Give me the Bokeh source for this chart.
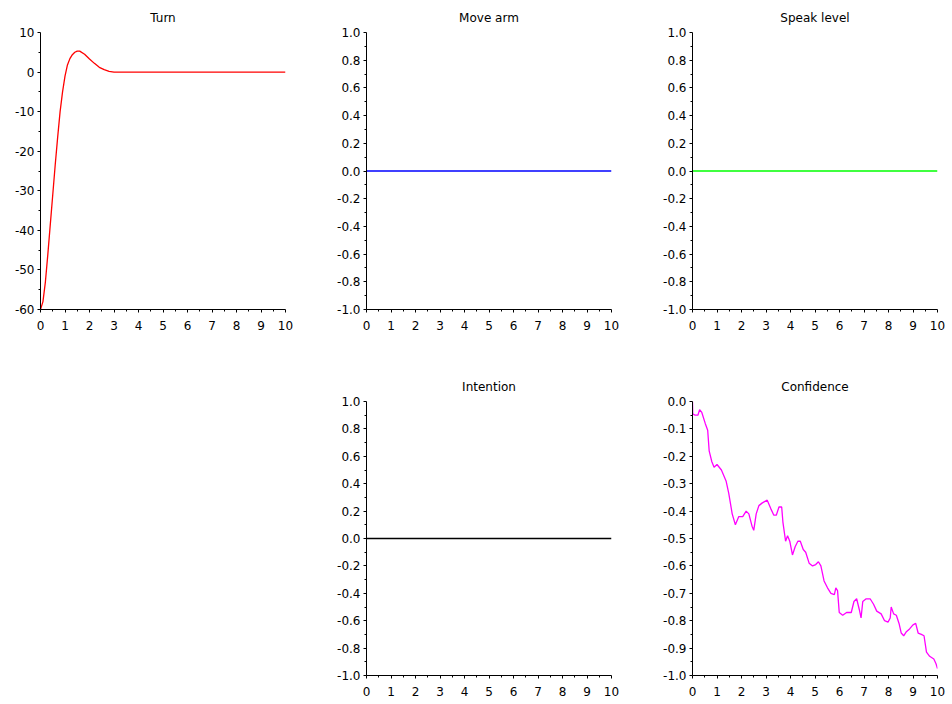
from bokeh.plotting import figure
from bokeh.layouts import gridplot
from bokeh.models import Range1d, FixedTicker, PrintfTickFormatter
from bokeh.embed import file_html
from bokeh.resources import INLINE

# ---- data ----
t_turn = [0, 0.1, 0.2, 0.3, 0.4, 0.5, 0.6, 0.7, 0.8, 0.9, 1.0, 1.1, 1.2, 1.3,
          1.4, 1.5, 1.6, 1.8, 2.0, 2.2, 2.4, 2.6, 2.8, 3.0, 10]
turn = [-60, -58, -53, -46, -38.5, -31, -23.5, -16.5, -10, -5, -1, 1.8, 3.4, 4.4,
        5.0, 5.3, 5.3, 4.5, 3.3, 2.2, 1.2, 0.6, 0.2, 0, 0]

t_flat = [0, 10]
move_arm = [0, 0]
speak_level = [0, 0]
intention = [0, 0]

t_conf = [0, 0.01, 0.11, 0.22, 0.29, 0.38, 0.52, 0.62, 0.68, 0.79, 0.88, 1.0, 1.18,
          1.37, 1.48, 1.62, 1.75, 1.89, 2.05, 2.19, 2.3, 2.43, 2.5, 2.6, 2.71, 2.85,
          3.05, 3.19, 3.32, 3.42, 3.53, 3.64, 3.69, 3.8, 3.88, 3.97, 4.08, 4.19, 4.3,
          4.4, 4.52, 4.62, 4.76, 4.9, 5.03, 5.14, 5.24, 5.37, 5.51, 5.65, 5.79, 5.85,
          5.92, 5.99, 6.13, 6.29, 6.48, 6.59, 6.7, 6.81, 6.88, 6.95, 7.09, 7.25, 7.39,
          7.52, 7.7, 7.84, 7.98, 8.07, 8.11, 8.21, 8.32, 8.43, 8.52, 8.62, 8.73, 8.86,
          9.0, 9.11, 9.21, 9.34, 9.45, 9.55, 9.68, 9.85, 9.93, 10.0]
confidence = [0.0, -0.045, -0.05, -0.05, -0.03, -0.04, -0.08, -0.105, -0.18, -0.22,
              -0.24, -0.23, -0.25, -0.29, -0.335, -0.41, -0.45, -0.42, -0.42, -0.40,
              -0.41, -0.455, -0.47, -0.41, -0.38, -0.37, -0.36, -0.39, -0.415, -0.415,
              -0.385, -0.385, -0.44, -0.51, -0.49, -0.51, -0.56, -0.53, -0.51, -0.51,
              -0.54, -0.55, -0.59, -0.60, -0.595, -0.585, -0.60, -0.655, -0.68, -0.70,
              -0.705, -0.68, -0.69, -0.77, -0.78, -0.77, -0.77, -0.73, -0.72, -0.76,
              -0.79, -0.73, -0.72, -0.72, -0.74, -0.765, -0.775, -0.80, -0.805, -0.79,
              -0.75, -0.775, -0.78, -0.81, -0.845, -0.855, -0.84, -0.83, -0.815, -0.81,
              -0.845, -0.85, -0.855, -0.915, -0.93, -0.94, -0.955, -0.975]

x_ticks = [0, 1, 2, 3, 4, 5, 6, 7, 8, 9, 10]
x_minor = [0.5, 1.5, 2.5, 3.5, 4.5, 5.5, 6.5, 7.5, 8.5, 9.5]
turn_ticks = [-60, -50, -40, -30, -20, -10, 0, 10]
turn_minor = [-55, -45, -35, -25, -15, -5, 5]
unit_ticks = [-1.0, -0.8, -0.6, -0.4, -0.2, 0.0, 0.2, 0.4, 0.6, 0.8, 1.0]
unit_minor = [-0.9, -0.7, -0.5, -0.3, -0.1, 0.1, 0.3, 0.5, 0.7, 0.9]
conf_ticks = [-1.0, -0.9, -0.8, -0.7, -0.6, -0.5, -0.4, -0.3, -0.2, -0.1, 0.0]
conf_minor = [-0.95, -0.85, -0.75, -0.65, -0.55, -0.45, -0.35, -0.25, -0.15, -0.05]

FONT = "DejaVu Sans"
FS = "12px"
LEFT = 40
TOP = 32
FW = 245
FH = 277
LW = 1.3


def make(title, yr, yt, ym, fmt, width, height):
    p = figure(width=width, height=height, x_range=Range1d(0, 10), y_range=Range1d(*yr),
               output_backend="svg", toolbar_location=None,
               min_border_left=LEFT, min_border_right=width - LEFT - FW,
               min_border_top=TOP, min_border_bottom=height - TOP - FH)
    p.title.text = title
    p.title.align = "center"
    p.title.text_font = FONT
    p.title.text_font_size = FS
    p.title.text_font_style = "normal"
    p.title.text_color = "black"
    p.title.text_line_height = 1.0
    p.title.standoff = 16
    p.outline_line_color = None
    p.grid.visible = False
    p.xaxis.ticker = FixedTicker(ticks=x_ticks, minor_ticks=x_minor)
    p.yaxis.ticker = FixedTicker(ticks=yt, minor_ticks=ym)
    p.yaxis.formatter = PrintfTickFormatter(format=fmt)
    for ax in (p.xaxis[0], p.yaxis[0]):
        ax.axis_line_color = "black"
        ax.major_tick_line_color = "black"
        ax.minor_tick_line_color = "black"
        ax.major_tick_out = 3
        ax.major_tick_in = 0
        ax.minor_tick_out = 2
        ax.minor_tick_in = 0
        ax.major_label_text_font = FONT
        ax.major_label_text_font_size = FS
        ax.major_label_text_color = "black"
    p.xaxis.major_label_standoff = 8
    p.yaxis.major_label_standoff = 3
    return p


p1 = make("Turn", (-60, 10), turn_ticks, turn_minor, "%d", 326, 369)
p1.line(t_turn, turn, color="#ff0000", line_width=LW)

p2 = make("Move arm", (-1, 1), unit_ticks, unit_minor, "%.1f", 326, 369)
p2.line(t_flat, move_arm, color="#0000ff", line_width=LW)

p3 = make("Speak level", (-1, 1), unit_ticks, unit_minor, "%.1f", 294, 369)
p3.line(t_flat, speak_level, color="#00ff00", line_width=LW)

p4 = make("Intention", (-1, 1), unit_ticks, unit_minor, "%.1f", 326, 329)
p4.line(t_flat, intention, color="#000000", line_width=LW)

p5 = make("Confidence", (-1, 0), conf_ticks, conf_minor, "%.1f", 294, 329)
p5.line(t_conf, confidence, color="#ff00ff", line_width=LW)

grid = gridplot([[p1, p2, p3], [None, p4, p5]], toolbar_location=None)

open("out.html", "w").write(file_html(grid, INLINE))
